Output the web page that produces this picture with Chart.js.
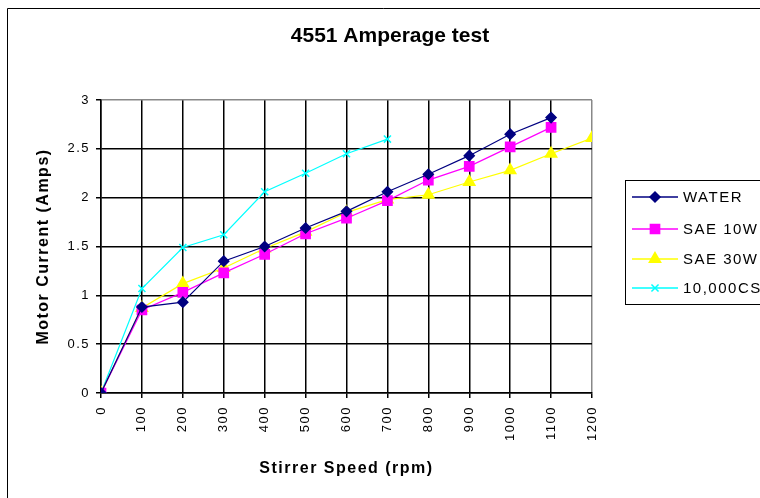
<!DOCTYPE html>
<html>
<head>
<meta charset="utf-8">
<script src="https://cdn.jsdelivr.net/npm/chart.js@4/dist/chart.umd.min.js"></script>
<style>
  html, body { margin: 0; padding: 0; background: #fff; }
  #wrap { width: 760px; height: 498px; position: relative; }
</style>
</head>
<body>
<div id="wrap"><canvas id="ampChart" width="760" height="498"></canvas></div>
<script>
// stirrer speed (rpm)
const speeds = [0, 100, 200, 300, 400, 500, 600, 700, 800, 900, 1000, 1100, 1200];

// motor current (amps)
const water = [0, 0.88, 0.93, 1.35, 1.5, 1.69, 1.86, 2.06, 2.24, 2.43, 2.65, 2.82];
const sae10w = [0, 0.85, 1.03, 1.23, 1.42, 1.63, 1.79, 1.97, 2.18, 2.32, 2.52, 2.72];
const sae30w = [0, 0.87, 1.12, 1.28, 1.48, 1.65, 1.85, 1.98, 2.03, 2.16, 2.28, 2.45, 2.61];
const cs10000 = [0, 1.07, 1.49, 1.62, 2.06, 2.25, 2.45, 2.6];

const seriesNames = ["WATER", "SAE 10W", "SAE 30W", "10,000CS"];

const FONT = "'Liberation Sans', Arial, sans-serif";

const toPoints = (vals) => vals.map((v, i) => ({ x: speeds[i], y: v }));

const styles = [
  { color: "#000080", pointStyle: "rectRot", radius: 5 },
  { color: "#ff00ff", pointStyle: "rect", radius: 6.5 },
  { color: "#ffff00", pointStyle: "triangle", radius: 6.5 },
  { color: "#00ffff", pointStyle: "crossRot", radius: 5 },
];

const allSeries = [water, sae10w, sae30w, cs10000];

const datasets = allSeries.map((vals, i) => ({
  label: seriesNames[i],
  data: toPoints(vals),
  borderColor: styles[i].color,
  backgroundColor: styles[i].color,
  pointBorderColor: styles[i].color,
  pointBackgroundColor: styles[i].color,
  pointStyle: styles[i].pointStyle,
  pointRadius: styles[i].radius,
  pointBorderWidth: 1.5,
  borderWidth: 1.2,
  tension: 0,
}));

// frame, title and legend box (line + marker samples)
const framePlugin = {
  id: "frame",
  beforeDraw(chart) {
    const ctx = chart.ctx;
    ctx.save();
    ctx.fillStyle = "#fff";
    ctx.fillRect(0, 0, chart.width, chart.height);
    ctx.restore();
    // the reference text is widely tracked
    ctx.letterSpacing = "1.5px";
  },
  afterDraw(chart) {
    const ctx = chart.ctx;
    ctx.save();
    ctx.strokeStyle = "#000";
    ctx.lineWidth = 1;
    ctx.beginPath();
    ctx.moveTo(7.5, chart.height);
    ctx.lineTo(7.5, 8.5);
    ctx.lineTo(chart.width, 8.5);
    ctx.stroke();

    // title (normal tracking)
    ctx.letterSpacing = "0px";
    ctx.fillStyle = "#000";
    ctx.font = "bold 21px " + FONT;
    ctx.textAlign = "center";
    ctx.textBaseline = "middle";
    ctx.fillText("4551 Amperage test", 390, 36);
    ctx.letterSpacing = "1.5px";

    // legend
    ctx.textAlign = "left";
    ctx.strokeStyle = "#000";
    ctx.lineWidth = 1;
    ctx.strokeRect(625.5, 180.5, 150, 124);
    const rows = [197, 229, 259, 288];
    ctx.font = "15px " + FONT;
    seriesNames.forEach((name, i) => {
      const y = rows[i];
      ctx.strokeStyle = styles[i].color;
      ctx.lineWidth = 1.5;
      ctx.beginPath();
      ctx.moveTo(632, y);
      ctx.lineTo(678, y);
      ctx.stroke();
      ctx.fillStyle = styles[i].color;
      Chart.helpers.drawPoint(ctx, {
        pointStyle: styles[i].pointStyle,
        radius: styles[i].radius,
        borderWidth: 1.5,
        rotation: 0,
      }, 655, y);
      ctx.fillStyle = "#000";
      ctx.fillText(name, 683, y + 1);
    });
    ctx.restore();
  },
};

const ctx = document.getElementById("ampChart").getContext("2d");
new Chart(ctx, {
  type: "line",
  data: { datasets: datasets },
  options: {
    responsive: false,
    animation: false,
    devicePixelRatio: 1,
    layout: { padding: { left: 20, right: 168, top: 100, bottom: 0 } },
    plugins: {
      legend: { display: false },
      tooltip: { enabled: false },
      title: { display: false },
    },
    scales: {
      x: {
        type: "linear",
        min: 0,
        max: 1200,
        afterFit: (scale) => { scale.height = 105; },
        ticks: {
          stepSize: 100,
          autoSkip: false,
          minRotation: 90,
          maxRotation: 90,
          padding: 8,
          color: "#000",
          font: { family: FONT, size: 13 },
          callback: (v) => String(v),
        },
        grid: {
          color: (c) => (c.tick && c.tick.value === 1200 ? "#888" : "#000"),
          lineWidth: 1.5,
          tickLength: 5,
          tickColor: "#000",
        },
        border: { color: "#000", width: 1.5 },
        title: {
          display: true,
          text: "Stirrer Speed (rpm)",
          color: "#000",
          font: { family: FONT, size: 16, weight: "bold" },
          padding: { top: 0, bottom: 20 },
        },
      },
      y: {
        min: 0,
        max: 3,
        afterFit: (scale) => { scale.width = 81; },
        ticks: {
          stepSize: 0.5,
          padding: 6,
          color: "#000",
          font: { family: FONT, size: 13 },
          callback: (v) => String(v),
        },
        grid: {
          color: (c) => (c.tick && c.tick.value === 3 ? "#888" : "#000"),
          lineWidth: 1.5,
          tickLength: 5,
          tickColor: "#000",
        },
        border: { color: "#000", width: 1.5 },
        title: {
          display: true,
          text: "Motor Current (Amps)",
          color: "#000",
          font: { family: FONT, size: 16, weight: "bold" },
          padding: { top: 14, bottom: 0 },
        },
      },
    },
  },
  plugins: [framePlugin],
});
</script>
</body>
</html>
